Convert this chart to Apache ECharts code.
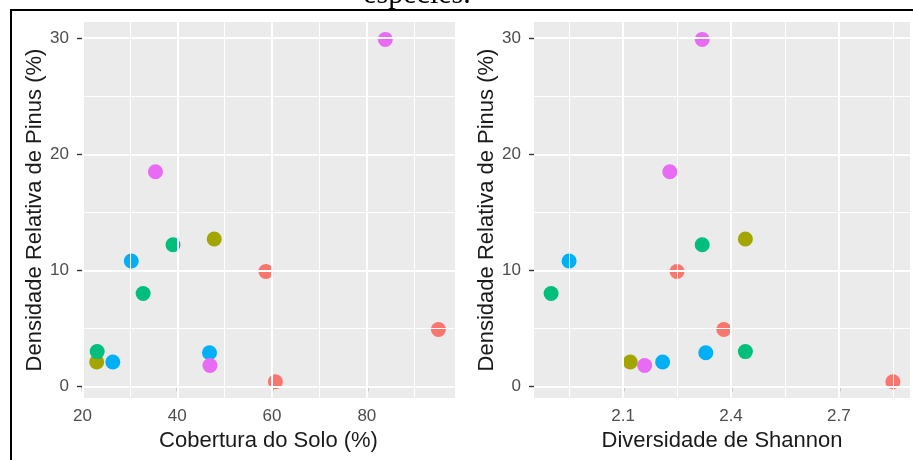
<!DOCTYPE html>
<html><head><meta charset="utf-8">
<script src="https://cdn.jsdelivr.net/npm/echarts@6/dist/echarts.min.js"></script>
<style>html,body{margin:0;padding:0;background:#fff}#c{width:913px;height:460px}</style>
</head><body><div id="c"></div>
<script>
// ---- data ----
const groups = ['A', 'B', 'C', 'D', 'E'];
const groupColors = ['#F8766D', '#A3A500', '#00BF7D', '#00B0F6', '#E76BF3'];
const coberturaSolo = [[58.7, 95.1, 60.7], [47.8, 23.0], [39.1, 32.8, 23.1], [30.3, 26.4, 46.8], [83.9, 35.4, 46.9]];
const diversidadeShannon = [[2.25, 2.38, 2.85], [2.44, 2.12], [2.32, 1.90, 2.44], [1.95, 2.21, 2.33], [2.32, 2.23, 2.16]];
const densidadePinus = [[9.9, 4.9, 0.4], [12.7, 2.1], [12.2, 8.0, 3.0], [10.8, 2.1, 2.9], [29.9, 18.5, 1.8]];
const xTicksCobertura = [20, 40, 60, 80];
const xMinorCobertura = [30, 50, 70, 90];
const xTicksShannon = [2.1, 2.4, 2.7];
const xMinorShannon = [1.95, 2.25, 2.55, 2.85];
const yTicks = [0, 10, 20, 30];
const yMinor = [5, 15, 25];
const xTitleCobertura = 'Cobertura do Solo (%)';
const xTitleShannon = 'Diversidade de Shannon';
const yTitle = 'Densidade Relativa de Pinus (%)';

// ---- chart ----
const FONT = '"Liberation Sans", Arial, sans-serif';
const chart = echarts.init(document.getElementById('c'), null, { renderer: 'canvas' });

function xAxisDef(gi, min, max, ticks, name) {
  return {
    gridIndex: gi, type: 'value', min: min, max: max,
    axisLine: { show: false },
    axisTick: { show: true, customValues: ticks, length: 5, lineStyle: { color: '#333333', width: 1.4 } },
    axisLabel: { customValues: ticks, color: '#4D4D4D', fontSize: 17, fontFamily: FONT, margin: 10 },
    splitLine: { show: false },
    name: name, nameLocation: 'middle', nameGap: 31,
    nameTextStyle: { fontSize: 22, color: '#1A1A1A', fontFamily: FONT }
  };
}
function yAxisDef(gi) {
  return {
    gridIndex: gi, type: 'value', min: -1.0, max: 31.4,
    axisLine: { show: false },
    axisTick: { show: true, customValues: yTicks, length: 5, lineStyle: { color: '#333333', width: 1.4 } },
    axisLabel: { customValues: yTicks, color: '#4D4D4D', fontSize: 17, fontFamily: FONT, margin: 13 },
    splitLine: { show: false },
    name: yTitle, nameLocation: 'middle', nameGap: 34, nameRotate: 90,
    nameTextStyle: { fontSize: 22, color: '#1A1A1A', fontFamily: FONT }
  };
}
function gridLinesSeries(gi, majorX, minorX) {
  const data = [];
  minorX.forEach(v => data.push({ xAxis: v, lineStyle: { width: 1 } }));
  yMinor.forEach(v => data.push({ yAxis: v, lineStyle: { width: 1 } }));
  majorX.forEach(v => data.push({ xAxis: v, lineStyle: { width: 2 } }));
  yTicks.forEach(v => data.push({ yAxis: v, lineStyle: { width: 2 } }));
  return {
    type: 'line', xAxisIndex: gi, yAxisIndex: gi, data: [], z: 1, silent: true,
    markLine: {
      silent: true, symbol: 'none', animation: false,
      label: { show: false }, emphasis: { disabled: true },
      lineStyle: { color: '#FFFFFF', type: 'solid', width: 1 },
      data: data
    }
  };
}

const series = [gridLinesSeries(0, xTicksCobertura, xMinorCobertura), gridLinesSeries(1, xTicksShannon, xMinorShannon)];
groups.forEach((g, i) => {
  series.push({
    name: g, type: 'scatter', xAxisIndex: 0, yAxisIndex: 0, z: 3,
    symbolSize: 15, itemStyle: { color: groupColors[i], opacity: 1 },
    data: coberturaSolo[i].map((x, j) => [x, densidadePinus[i][j]])
  });
  series.push({
    name: g, type: 'scatter', xAxisIndex: 1, yAxisIndex: 1, z: 3,
    symbolSize: 15, itemStyle: { color: groupColors[i], opacity: 1 },
    data: diversidadeShannon[i].map((x, j) => [x, densidadePinus[i][j]])
  });
});

chart.setOption({
  backgroundColor: '#FFFFFF',
  animation: false,
  grid: [
    { left: 82, top: 22, width: 373, height: 376, show: true, backgroundColor: '#EBEBEB', borderWidth: 0, containLabel: false },
    { left: 534, top: 22, width: 376, height: 376, show: true, backgroundColor: '#EBEBEB', borderWidth: 0, containLabel: false }
  ],
  xAxis: [
    xAxisDef(0, 19.9, 98.6, xTicksCobertura, xTitleCobertura),
    xAxisDef(1, 1.8525, 2.8975, xTicksShannon, xTitleShannon)
  ],
  yAxis: [yAxisDef(0), yAxisDef(1)],
  series: series,
  graphic: [
    { type: 'text', x: 417, y: 10, z: 10,
      style: { text: 'espécies.', fontSize: 30, fontFamily: '"Liberation Serif", "Times New Roman", serif', fill: '#000',
               textAlign: 'center', textVerticalAlign: 'bottom', align: 'center', verticalAlign: 'bottom' } },
    { type: 'line', z: 11, shape: { x1: 10, y1: 10, x2: 913, y2: 10 }, style: { stroke: '#000', lineWidth: 2 } },
    { type: 'line', z: 11, shape: { x1: 11, y1: 10, x2: 11, y2: 460 }, style: { stroke: '#000', lineWidth: 2 } }
  ]
});
</script></body></html>
